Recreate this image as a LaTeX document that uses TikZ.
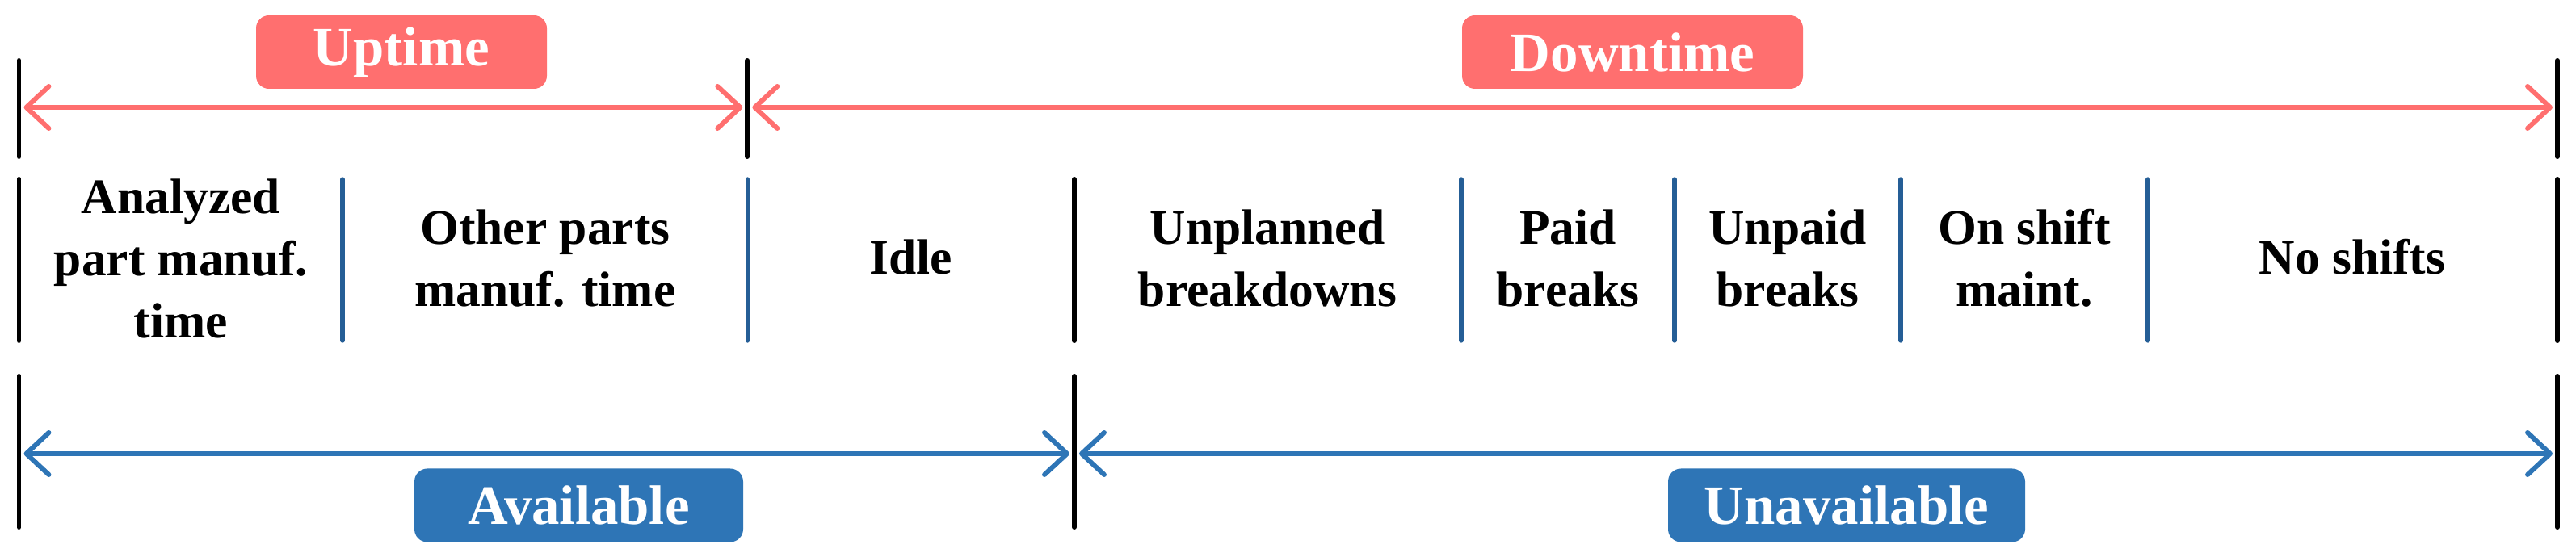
\documentclass[tikz,border=0pt]{standalone}
\usepackage{fontspec}
\setmainfont{Liberation Serif}
\usetikzlibrary{arrows.meta,positioning}
\definecolor{upred}{HTML}{FF6F6F}
\definecolor{avblue}{HTML}{2E75B6}
\definecolor{sepblue}{HTML}{255E96}
\tikzset{
    bartick/.style={line width=1.7pt, black, line cap=round},
    segline/.style={line width=1.5pt, sepblue, line cap=round},
    spanarrow/.style={line width=1.7pt, shorten <=0.6mm, shorten >=0.6mm,
        {Straight Barb[length=2.8mm,width=5.2mm,round]}-{Straight Barb[length=2.8mm,width=5.2mm,round]}},
    tagbox/.style={rounded corners=1.6mm, minimum height=9.1mm, inner sep=0pt, text=white,
        font=\fontsize{19.6}{22}\selectfont\bfseries},
    segtext/.style={align=center, font=\fontsize{17.5}{21.9}\selectfont\bfseries}
}
\begin{document}
\begin{tikzpicture}
        \useasboundingbox (0,0) rectangle (31.89,6.90);

        % top ticks and uptime / downtime
        \coordinate (tL1) at (0.235,6.15); \coordinate (tL2) at (0.235,4.96);
        \coordinate (tM1) at (9.253,6.15); \coordinate (tM2) at (9.253,4.96);
        \coordinate (tR1) at (31.66,6.15); \coordinate (tR2) at (31.66,4.96);
        \draw[bartick] (tL1) -- (tL2);
        \draw[bartick] (tM1) -- (tM2);
        \draw[bartick] (tR1) -- (tR2);
        \coordinate (upL) at (0.235,5.57);
        \coordinate (upM) at (9.253,5.57);
        \coordinate (upR) at (31.66,5.57);
        \draw[spanarrow, upred] (upL) -- (upM);
        \draw[spanarrow, upred] (upM) -- (upR);
        \node[tagbox, fill=upred, minimum width=3.6cm] (uptime) at (4.97,6.255) {Uptime};
        \node[tagbox, fill=upred, minimum width=4.22cm] (downtime) at (20.21,6.255) {Downtime};

        % middle row: segments
        \draw[bartick] (0.235,4.68) -- (0.235,2.68);
        \draw[segline] (4.24,4.68) -- (4.24,2.68);
        \draw[segline] (9.253,4.68) -- (9.253,2.68);
        \draw[bartick] (13.30,4.68) -- (13.30,2.68);
        \draw[segline] (18.09,4.68) -- (18.09,2.68);
        \draw[segline] (20.73,4.68) -- (20.73,2.68);
        \draw[segline] (23.53,4.68) -- (23.53,2.68);
        \draw[segline] (26.59,4.68) -- (26.59,2.68);
        \draw[bartick] (31.66,4.68) -- (31.66,2.68);

        \node[segtext] (analyzed) at (2.24,3.70) {Analyzed\\part manuf.\\time};
        \node[segtext] (otherparts) at (6.75,3.70) {Other parts\\manuf. time};
        \node[segtext] (idle) at (11.28,3.72) {Idle};
        \node[segtext] (unplanned) at (15.69,3.70) {Unplanned\\breakdowns};
        \node[segtext] (paid) at (19.41,3.70) {Paid\\breaks};
        \node[segtext] (unpaid) at (22.13,3.70) {Unpaid\\breaks};
        \node[segtext] (onshift) at (25.06,3.70) {On shift\\maint.};
        \node[segtext] (noshifts) at (29.12,3.72) {No shifts};

        % bottom ticks and available / unavailable
        \coordinate (bL1) at (0.235,2.24); \coordinate (bL2) at (0.235,0.37);
        \coordinate (bM1) at (13.30,2.24); \coordinate (bM2) at (13.30,0.37);
        \coordinate (bR1) at (31.66,2.24); \coordinate (bR2) at (31.66,0.37);
        \draw[bartick] (bL1) -- (bL2);
        \draw[bartick] (bM1) -- (bM2);
        \draw[bartick] (bR1) -- (bR2);
        \coordinate (avL) at (0.235,1.28);
        \coordinate (avM) at (13.30,1.28);
        \coordinate (avR) at (31.66,1.28);
        \draw[spanarrow, avblue] (avL) -- (avM);
        \draw[spanarrow, avblue] (avM) -- (avR);
        \node[tagbox, fill=avblue, minimum width=4.07cm] (available) at (7.165,0.64) {Available};
        \node[tagbox, fill=avblue, minimum width=4.42cm] (unavailable) at (22.86,0.64) {Unavailable};
\end{tikzpicture}
\end{document}
